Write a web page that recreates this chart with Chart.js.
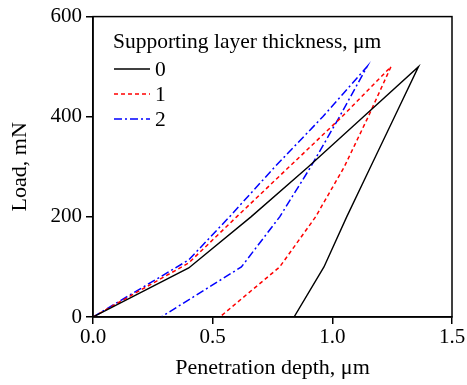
<!DOCTYPE html>
<html>
<head>
<meta charset="utf-8">
<script src="https://cdn.jsdelivr.net/npm/chart.js@4"></script>
<style>
  html, body { margin: 0; padding: 0; background: #fff; }
  #wrap { width: 467px; height: 385px; }
</style>
</head>
<body>
<div id="wrap"><canvas id="loadChart"></canvas></div>
<script>
(function () {
    'use strict';

    // Load-unload curves, loading branch then unloading branch
    var depth0 = [0, 0.40, 0.66, 0.90, 1.13, 1.36, 1.26, 1.16, 1.06, 0.965, 0.84];
    var load0  = [0, 98, 200, 300, 400, 500, 400, 300, 200, 100, 0];
    var depth1 = [0, 0.40, 0.60, 0.82, 1.04, 1.245, 1.15, 1.05, 0.93, 0.78, 0.53];
    var load1  = [0, 108, 200, 300, 400, 500, 400, 300, 200, 100, 0];
    var depth2 = [0, 0.40, 0.57, 0.76, 0.96, 1.145, 1.03, 0.91, 0.78, 0.62, 0.285];
    var load2  = [0, 114, 200, 300, 400, 500, 400, 300, 200, 100, 0];

    var seriesNames = ['0', '1', '2'];
    var legendTitle = 'Supporting layer thickness, \u03bcm';
    var xTicks = [0, 0.5, 1.0, 1.5];
    var yTicks = [0, 200, 400, 600];

    var FONT = '"Liberation Serif", "Times New Roman", serif';

    function pts(xs, ys) {
        return xs.map(function (x, i) { return { x: x, y: ys[i] }; });
    }

    // ── Frame + in-plot legend ────────────────────────────────────────────────
    var framePlugin = {
        id: 'frameLegend',
        afterDraw: function (chart) {
            var ctx = chart.ctx, a = chart.chartArea;
            ctx.save();
            ctx.strokeStyle = '#000';
            ctx.lineWidth = 1.5;
            ctx.strokeRect(a.left, a.top, a.right - a.left, a.bottom - a.top);

            ctx.fillStyle = '#000';
            ctx.font = '21.5px ' + FONT;
            ctx.textBaseline = 'middle';
            ctx.fillText(legendTitle, 113, 42);
            chart.data.datasets.forEach(function (ds, i) {
                var y = 69 + i * 25;
                ctx.beginPath();
                ctx.setLineDash(ds.borderDash || []);
                ctx.strokeStyle = ds.borderColor;
                ctx.lineWidth = ds.borderWidth;
                ctx.moveTo(114, y);
                ctx.lineTo(150, y);
                ctx.stroke();
                ctx.setLineDash([]);
                ctx.fillText(ds.label, 155, y + 1);
            });
            ctx.restore();
        }
    };

    var ticksFont = { family: FONT, size: 21 };
    var titleFont = { family: FONT, size: 22 };

    new Chart(document.getElementById('loadChart'), {
        type: 'scatter',
        data: {
            datasets: [
                { label: seriesNames[0], data: pts(depth0, load0), borderColor: '#000000', borderWidth: 1.4, borderDash: [] },
                { label: seriesNames[1], data: pts(depth1, load1), borderColor: '#ff0000', borderWidth: 1.5, borderDash: [4, 3] },
                { label: seriesNames[2], data: pts(depth2, load2), borderColor: '#0000ff', borderWidth: 1.5, borderDash: [8, 3, 2, 3] }
            ].map(function (ds) {
                ds.showLine = true;
                ds.pointRadius = 0;
                ds.tension = 0;
                return ds;
            })
        },
        options: {
            responsive: true,
            maintainAspectRatio: false,
            animation: false,
            layout: { padding: { top: 16, right: 15, left: 0, bottom: 0 } },
            plugins: { legend: { display: false }, tooltip: { enabled: false } },
            scales: {
                x: {
                    type: 'linear', min: 0, max: 1.5,
                    afterBuildTicks: function (s) { s.ticks = xTicks.map(function (v) { return { value: v }; }); },
                    afterFit: function (s) { s.height = 68; },
                    ticks: { font: ticksFont, color: '#000', padding: 1,
                             callback: function (v) { return v.toFixed(1); } },
                    grid: { drawOnChartArea: false, tickLength: 7, color: '#000', lineWidth: 1.5 },
                    border: { color: '#000', width: 1.5 },
                    title: { display: true, text: 'Penetration depth, \u03bcm', font: titleFont, color: '#000', padding: { top: 2 } }
                },
                y: {
                    type: 'linear', min: 0, max: 600,
                    afterBuildTicks: function (s) { s.ticks = yTicks.map(function (v) { return { value: v }; }); },
                    afterFit: function (s) { s.width = 93; },
                    ticks: { font: ticksFont, color: '#000', padding: 4 },
                    grid: { drawOnChartArea: false, tickLength: 7, color: '#000', lineWidth: 1.5 },
                    border: { color: '#000', width: 1.5 },
                    title: { display: true, text: 'Load, mN', font: titleFont, color: '#000', padding: { top: 7, bottom: 0 } }
                }
            }
        },
        plugins: [framePlugin]
    });
})();
</script>
</body>
</html>
